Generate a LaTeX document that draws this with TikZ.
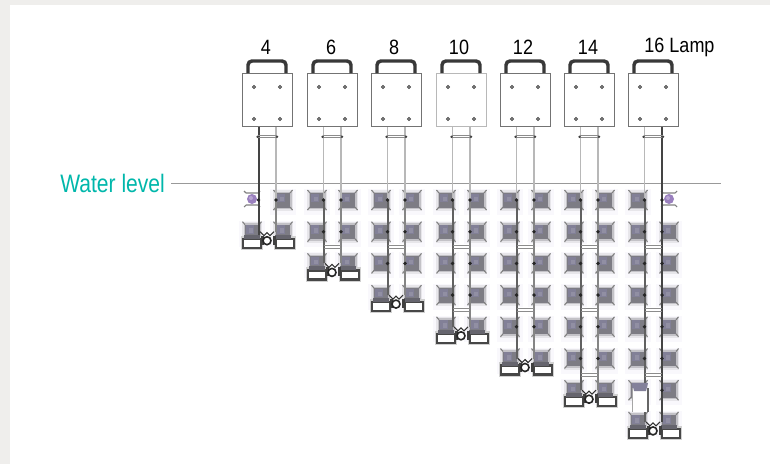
\documentclass[tikz,border=0pt]{standalone}
\usepackage{fontspec}
\setmainfont{Liberation Sans}
\definecolor{pagebg}{HTML}{EFEEEC}
\definecolor{teal1}{HTML}{00B7AB}
\definecolor{halo}{HTML}{F9F8FC}
\definecolor{coreA}{HTML}{66656E}
\definecolor{coreB}{HTML}{83819A}
\definecolor{coreC}{HTML}{9C9AAC}
\definecolor{purp}{HTML}{9A80BE}
\definecolor{poleL}{HTML}{B8B8B8}
\definecolor{poleD}{HTML}{444444}
\tikzset{
  x=0.75pt,y=-0.75pt,
  lampbox/.style={draw=black!55,line width=0.6pt,fill=white,minimum width=37.5pt,minimum height=40pt,inner sep=0pt,anchor=north west},
  boltdot/.style={draw=black!75,line width=0.55pt,fill=white},
  handleline/.style={draw=black!78,line width=2.6pt,rounded corners=3pt},
  poleline/.style={draw=poleL,line width=1.4pt},
  darkpole/.style={draw=poleD,line width=1.5pt},
  lowerpole/.style={draw=black!62,line width=1.5pt},
  crossb/.style={draw=black!45,line width=0.5pt},
  tickline/.style={draw=black!50,line width=0.8pt},
  framebox/.style={draw=black!72,line width=1.8pt,fill=white},
  framesoft/.style={draw=black!18,line width=3.2pt},
  toplabel/.style={font=\fontsize{13.5pt}{15pt}\selectfont,text=black,inner sep=0pt},
}
\newcommand{\lampunit}[2]{%
  \fill[halo] (#1-13,#2-11) rectangle (#1+13,#2+15);
  \fill[coreA,opacity=.12] (#1-10,#2-10) rectangle (#1+10,#2+11);
  \fill[coreA,opacity=.28] (#1-8.5,#2-8.5) rectangle (#1+8.5,#2+9);
  \fill[coreA,opacity=.75] (#1-7,#2-7) rectangle (#1+7,#2+7.5);
  \fill[coreB,opacity=.9] (#1-6,#2-6.5) rectangle (#1+2,#2+2);
  \fill[coreC,opacity=.6] (#1-3.5,#2-3.5) rectangle (#1+1,#2+1);
  \draw[tickline] (#1-7,#2-7) -- (#1-9.5,#2-10) (#1+7,#2-7) -- (#1+9.5,#2-10)
                  (#1-7,#2+7) -- (#1-9.5,#2+10) (#1+7,#2+7) -- (#1+9.5,#2+10);
}
\newcommand{\purpleunit}[2]{%
  \draw[tickline] (#1-6,#2-6) -- (#1-8,#2-8) (#1+6,#2-6) -- (#1+8,#2-8)
                  (#1-6,#2+6) -- (#1-8,#2+8) (#1+6,#2+6) -- (#1+8,#2+8)
                  (#1-6,#2-6) -- (#1+6,#2-6) (#1-6,#2+6) -- (#1+6,#2+6);
  \fill[purp] (#1,#2) circle (5);
  \fill[purp!70!white] (#1-1,#2-1) circle (2);
}
\begin{document}
\begin{tikzpicture}
\useasboundingbox (0,0) rectangle (770,464);
\fill[pagebg] (0,0) rectangle (770,464);
\fill[white] (10,5) rectangle (770,464);
% water level
\node[text=teal1,inner sep=0pt,anchor=west,font=\fontsize{15.8pt}{18pt}\selectfont] (wl) at (60,183) {\scalebox{1}[1.2]{Water level}};
\coordinate (wlend) at (721,183);
\coordinate (wlstart) at (171,183);
\draw[draw=black!40,line width=0.7pt] (wlstart) -- (wlend);
% labels
\node[toplabel] (l4) at (266,47) {\scalebox{1}[1.15]{4}};
\node[toplabel] (l6) at (331,47) {\scalebox{1}[1.15]{6}};
\node[toplabel] (l8) at (394,47) {\scalebox{1}[1.15]{8}};
\node[toplabel] (l10) at (459,47) {\scalebox{1}[1.15]{10}};
\node[toplabel] (l12) at (523,47) {\scalebox{1}[1.15]{12}};
\node[toplabel] (l14) at (588,47) {\scalebox{1}[1.15]{14}};
\node[toplabel] (l16) at (679.5,47) {\scalebox{1}[1.15]{16 Lamp}};
% columns: box left / number of rows (per side) / box edge shade
\foreach \bx/\rows/\shade [count=\c] in {242/2/55,307/3/55,371/4/55,436/5/28,500/6/55,564/7/55,628/8/55}{
  \pgfmathsetmacro{\pa}{\bx+16.5}
  \pgfmathsetmacro{\pb}{\bx+34}
  \pgfmathsetmacro{\ul}{\bx+10}
  \pgfmathsetmacro{\ur}{\bx+41}
  \pgfmathsetmacro{\last}{200+31.7*(\rows-1)}
  \pgfmathsetmacro{\midx}{\bx+25}
  % halos and units
  \foreach \r in {1,...,\rows}{
    \pgfmathsetmacro{\yy}{200+31.7*(\r-1)}
    \ifnum\r=1
      \ifnum\c=1 \purpleunit{\ul}{199}\else \lampunit{\ul}{\yy}\fi
      \ifnum\c=7 \purpleunit{\ur}{199}\else \lampunit{\ur}{\yy}\fi
    \else
      \lampunit{\ul}{\yy}
      \lampunit{\ur}{\yy}
    \fi
  }
  % poles
  \draw[poleline] (\pa,127) -- (\pa,200);
  \draw[poleline] (\pb,127) -- (\pb,200);
  \draw[lowerpole] (\pa,200) -- (\pa,\last);
  \draw[lowerpole,draw=black!48] (\pb,200) -- (\pb,\last);
  \ifnum\c=1 \draw[darkpole] (\pa,127) -- (\pa,\last+6);\fi
  \ifnum\c=7 \draw[darkpole] (\pb,127) -- (\pb,\last);\fi
  % pole crossbar below the float
  \draw[crossb] (\pa-1,135.8) -- (\pb+1,135.8) (\pa-1,137.8) -- (\pb+1,137.8);
  \fill[black!75] (\pa-1,136.8) circle (1.3) (\pb+1,136.8) circle (1.3);
  % crossbars between rows
  \foreach \cy in {247,310,375}{
    \pgfmathtruncatemacro{\showbar}{\cy<\last-4 ? 1 : 0}
    \ifnum\showbar=1
      \fill[white] (\pa+1,\cy-3) rectangle (\pb-1,\cy+3);
      \draw[crossb] (\pa,\cy-1.2) -- (\pb,\cy-1.2) (\pa,\cy+1.2) -- (\pb,\cy+1.2);
    \fi
  }
  % inner clamp dots
  \foreach \r in {1,...,\rows}{
    \pgfmathsetmacro{\yy}{200+31.7*(\r-1)}
    \ifnum\r<\rows
      \fill[black!85] (\pa,\yy) circle (1.9) (\pb,\yy) circle (1.9);
    \fi
  }
  % bottom frames and centre ring
  \draw[framesoft] (\bx+1,\last+6) rectangle (\bx+19,\last+16);
  \draw[framesoft] (\bx+34,\last+6) rectangle (\bx+52,\last+16);
  \draw[framebox] (\bx+1,\last+7) rectangle (\bx+19,\last+16);
  \draw[framebox] (\bx+34,\last+7) rectangle (\bx+52,\last+16);
  \fill[coreA] (\ul-8,\last+3) rectangle (\ul+8,\last+7);
  \fill[coreA] (\ur-8,\last+3) rectangle (\ur+8,\last+7);
  \fill[black!75] (\bx+19,\last+4) rectangle (\bx+22,\last+13);
  \fill[black!75] (\bx+31,\last+4) rectangle (\bx+34,\last+13);
  \draw[tickline,draw=black!80] (\midx-7,\last) -- (\midx-3,\last+4) -- (\midx,\last+1) -- (\midx+3,\last+4) -- (\midx+7,\last);
  \draw[black!85,line width=1.2pt,fill=white] (\midx,\last+9) circle (4);
  % float box
  \node[lampbox,draw=black!\shade] (box\c) at (\bx,73) {};
  \draw[handleline] (\bx+6,73) -- (\bx+6,61) -- (\bx+44,61) -- (\bx+44,73);
  \foreach \dx in {12,38}\foreach \dy in {87,119}{
    \draw[boltdot] (\bx+\dx,\dy) circle (1.5);
  }
}
% lamp 16, left side: white section
\fill[white] (632,388) rectangle (648,412);
\draw[black!35,line width=.6pt] (632,388) -- (632,412);
\draw[black!60,line width=1.5pt] (648,388) -- (648,412);
\fill[coreB] (632,383) -- (648,383) -- (646,391) -- (634,391) -- cycle;
\end{tikzpicture}
\end{document}
